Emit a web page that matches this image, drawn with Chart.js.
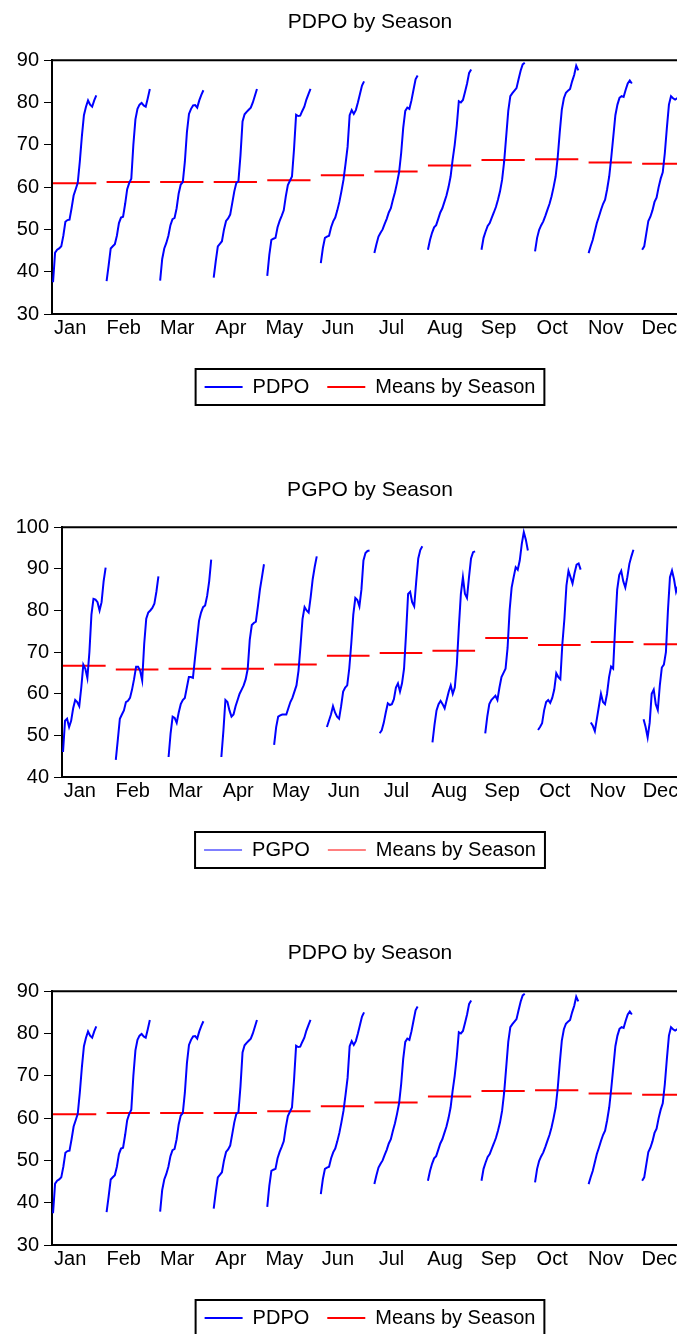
<!DOCTYPE html>
<html>
<head>
<meta charset="utf-8">
<script src="https://cdn.jsdelivr.net/npm/chart.js@4.4.1/dist/chart.umd.min.js"></script>
<style>
html, body { margin: 0; padding: 0; background: #fff; overflow: hidden; }
body { position: relative; width: 677px; height: 1334px; }
.panel { position: absolute; left: 0; }
</style>
</head>
<body>
<div class="panel" style="top:0px"><canvas id="chart1" width="740" height="407"></canvas></div>
<div class="panel" style="top:468px"><canvas id="chart2" width="740" height="402"></canvas></div>
<div class="panel" style="top:931px"><canvas id="chart3" width="740" height="407"></canvas></div>
<script>
// Seasons along the x-axis
var Months = ['Jan','Feb','Mar','Apr','May','Jun','Jul','Aug','Sep','Oct','Nov','Dec'];

// PDPO, one list per month (years in order)
var PDPO = [
  [37.5,44.5,45.2,45.5,46,48.5,51.8,52.2,52.3,55,58,59.5,61,66,72,77,79,80.5,79.5,79,80.5,81.7],
  [37.8,41.5,45.5,46,46.5,48.5,51.5,52.8,53,56,59.5,61,62,70,76,78.5,79.5,79.9,79.3,79,81,83.2],
  [37.9,43,45.5,46.8,48.5,51,52.4,52.7,55,58.5,60.6,61.2,66,73,77.3,78.5,79.3,79.4,78.8,80.5,81.8,82.9],
  [38.6,42.5,46,46.6,47.2,50,52,52.6,53.5,56.2,59,61,61.4,67.5,75.5,77.2,77.8,78.3,78.8,80,81.6,83.2],
  [39,44,47.5,47.8,48,50.5,52,53.2,54.5,57.8,60.5,61.5,62.5,69,77.1,76.8,76.9,78,79,80.7,82,83.2],
  [42,45.6,48,48.3,48.5,50.5,51.9,52.8,54.5,56.5,59,61.7,65.5,69.5,77,78.2,77.3,78.2,80,82,84,85],
  [44.4,46.5,48.3,49.2,50,51.3,52.5,54,55,57,58.8,61,63.5,68,74,78,78.8,78.5,80.5,83,85.5,86.4],
  [45.2,47.5,49.2,50.5,51,52.5,54,55,56.5,58,60,62.5,66.5,70,74.5,80.3,80,80.6,82.5,84.5,87,87.8],
  [45.2,48,49.5,50.8,51.5,52.8,54,55.3,57,59,61.7,66,72,78,81.5,82.2,82.8,83.4,85.5,87.5,89,89.4],
  [44.8,48,49.9,51,51.9,53.2,54.6,56,57.8,60,62.5,67,73,78.3,81,82.3,82.8,83.2,85,86.5,88.7,87.6],
  [44.4,46,47.5,49.5,51.5,53,54.6,56,57,59.5,62.5,67,72,77,79.5,81.1,81.5,81.3,83,84.5,85.2,84.5],
  [45.2,46,49,52,53,54.5,56.5,57.5,60,62,63.5,68,74,79.5,81.5,81,80.7,81,81.5,82,81.8,82.2]
];
var PDPO_Means = [60.9,61.2,61.2,61.2,61.6,62.8,63.7,65.1,66.4,66.6,65.8,65.5];

// PGPO, one list per month (years in order)
var PGPO = [
  [46,53.5,54,52,53.5,56.5,58.5,58,57,61.5,67,66,63.8,70,79,82.8,82.6,82,80,82,87,90.3],
  [44.1,49,54,55,56,58,58.3,59,61,63.5,66.5,66.5,65.5,63.2,72,78,79.5,80,80.6,81.6,84.5,88.2],
  [44.8,50.5,54.5,54.2,53,55.5,57.5,58.5,59,61.5,64,64,63.8,68.5,73,77.5,79.5,80.8,81.2,83.5,87,92.2],
  [44.8,51,58.5,58,56,54.5,55,57,58.5,60,61,62,63.5,66,73,76.5,77,77.3,81,85,88,91.1],
  [47.7,52,54.5,54.8,55,55,55,56.5,58,59,60.5,62,65.5,71.5,78,80.8,80,79.5,83.2,87.5,90.5,93],
  [52,53.5,55,57,55.5,54.5,54,57,60.5,61.5,62,66,72,79,83,82.5,81,85,92,93.8,94.3,94.4],
  [50.5,51.2,53,55.5,57.7,57.3,57.5,58.7,61.5,62.5,60.5,62.5,66,74.5,84,84.5,82,81,87,92.5,94.5,95.4],
  [48.3,52.5,56,57.5,58.3,57.5,56.5,58.5,60.5,62,60,61.5,67,76,84,88,84,83,88,92.5,94,94.2],
  [50.5,54.5,57.5,58.5,59,59.5,58.5,61.5,64,65,66,71,80,85.5,88,90.4,89.8,92,96,98.8,97,94.4],
  [51.3,52,52.9,56,58,58.5,57.8,59,61,64.9,64,63.5,72,78,86,89.5,88,86.5,89,91,91.3,89.8],
  [53.1,52.3,51,54,57,60,58,57.5,60,64,66.5,66,76,85,88.5,89.5,87,85.5,88,91.2,93,94.6],
  [53.9,52,49.5,53,60,61,57.5,56.1,62,66.3,67,70,80,88,89.6,87.5,84.5,86,88,90,91,92]
];
var PGPO_Means = [66.7,65.8,66.0,66.0,67.0,69.1,69.8,70.3,73.4,71.7,72.4,71.9];

var PERIOD = 26; // x slots per season: one per year plus a gap

Chart.defaults.font.family = "'Liberation Sans', Arial, sans-serif";
Chart.defaults.font.size = 20;
Chart.defaults.color = '#000';

// every year of a month in a row, broken between months
function seasonPoints(byMonth) {
  var pts = [];
  byMonth.forEach(function (vals, m) {
    vals.forEach(function (v, i) { pts.push({ x: m * PERIOD + i, y: v }); });
    pts.push({ x: m * PERIOD + vals.length, y: null });
  });
  return pts;
}

function meanPoints(means, n) {
  var pts = [];
  means.forEach(function (v, m) {
    pts.push({ x: m * PERIOD, y: v });
    pts.push({ x: m * PERIOD + n - 1, y: v });
    pts.push({ x: m * PERIOD + n, y: null });
  });
  return pts;
}

// top edge of the plot and the box round the legend
var frame = {
  id: 'frame',
  afterDraw: function (chart) {
    var ctx = chart.ctx, a = chart.chartArea;
    ctx.save();
    ctx.strokeStyle = '#000';
    ctx.lineWidth = 2;
    ctx.beginPath();
    ctx.moveTo(a.left - 1, a.top);
    ctx.lineTo(a.right, a.top);
    ctx.stroke();
    var hb = chart.legend.legendHitBoxes;
    if (hb && hb.length) {
      var first = hb[0], last = hb[hb.length - 1];
      var left = first.left - 9, right = last.left + last.width + 9;
      var cy = first.top + first.height / 2;
      ctx.strokeRect(left, cy - 18, right - left, 36);
    }
    ctx.restore();
  }
};

function makeChart(id, title, name, byMonth, means, yMin, yMax, yWidth, titleGap, legendLine) {
  new Chart(document.getElementById(id), {
    type: 'line',
    data: {
      datasets: [
        {
          label: name,
          data: seasonPoints(byMonth),
          borderColor: '#0000ff',
          borderWidth: 2,
          pointRadius: 0,
          spanGaps: false
        },
        {
          label: 'Means by Season',
          data: meanPoints(means, byMonth[0].length),
          borderColor: '#ff0000',
          borderWidth: 2,
          pointRadius: 0,
          spanGaps: false
        }
      ]
    },
    options: {
      responsive: false,
      animation: false,
      plugins: {
        title: {
          display: true,
          text: title,
          color: '#000',
          font: { size: 21, weight: 'normal' },
          padding: { top: 10, bottom: titleGap }
        },
        legend: {
          position: 'bottom',
          labels: {
            usePointStyle: true,
            pointStyle: 'line',
            pointStyleWidth: 38,
            padding: 18,
            color: '#000',
            font: { size: 20 },
            generateLabels: function (chart) {
              return chart.data.datasets.map(function (d, i) {
                return {
                  text: d.label,
                  strokeStyle: d.borderColor,
                  fillStyle: d.borderColor,
                  fontColor: '#000',
                  lineWidth: legendLine,
                  pointStyle: 'line',
                  hidden: false,
                  datasetIndex: i
                };
              });
            }
          }
        },
        tooltip: { enabled: false }
      },
      scales: {
        x: {
          type: 'linear',
          min: -0.5,
          max: 333.5,
          grid: { display: false, drawTicks: false },
          border: { display: true, color: '#000', width: 2 },
          ticks: {
            padding: 2,
            autoSkip: false,
            maxRotation: 0,
            callback: function (v, i) { return Months[i]; }
          },
          afterBuildTicks: function (s) {
            s.ticks = Months.map(function (m, i) { return { value: i * PERIOD + 8.3 }; });
          },
          afterFit: function (s) { s.height = 45; }
        },
        y: {
          min: yMin,
          max: yMax,
          grid: { drawOnChartArea: false, tickLength: 8, color: '#000', lineWidth: 1 },
          border: { display: true, color: '#000', width: 2 },
          ticks: { stepSize: 10, padding: 5 },
          afterFit: function (s) { s.width = yWidth; }
        }
      }
    },
    plugins: [frame]
  });
}

makeChart('chart1', 'PDPO by Season', 'PDPO', PDPO, PDPO_Means, 30, 90, 52, 25, 2);
makeChart('chart2', 'PGPO by Season', 'PGPO', PGPO, PGPO_Means, 40, 100, 62, 24, 1);
makeChart('chart3', 'PDPO by Season', 'PDPO', PDPO, PDPO_Means, 30, 90, 52, 25, 2);
</script>
</body>
</html>
